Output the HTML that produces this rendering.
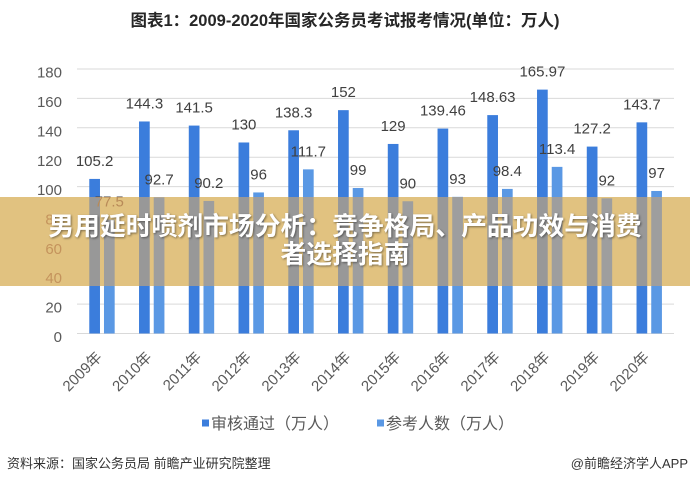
<!DOCTYPE html>
<html><head><meta charset="utf-8">
<style>
html,body{margin:0;padding:0;background:#fff;}
#wrap{position:relative;width:690px;height:485px;overflow:hidden;background:#fff;}
svg{position:absolute;left:0;top:0;}
text{font-family:"Liberation Sans","Noto Sans CJK SC",sans-serif;}
#banner{position:absolute;left:0;top:213px;width:690px;text-align:center;color:#fff;font-family:"Liberation Sans","Noto Sans CJK SC",sans-serif;font-weight:bold;font-size:25.8px;line-height:28px;text-shadow:1px 1px 2px rgba(0,0,0,0.45);white-space:nowrap;}
</style></head><body><div id="wrap">
<svg width="690" height="485" viewBox="0 0 690 485">
<defs><clipPath id="bc"><rect x="0" y="197" width="690" height="89"/></clipPath></defs>
<text x="345" y="26" text-anchor="middle" font-size="16.5" font-weight="bold" fill="#262626">图表1：2009-2020年国家公务员考试报考情况(单位：万人)</text>
<g stroke="#d9d9d9" stroke-width="1">
<line x1="77" x2="674" y1="333.5" y2="333.5"/><line x1="77" x2="674" y1="304.1" y2="304.1"/><line x1="77" x2="674" y1="274.7" y2="274.7"/><line x1="77" x2="674" y1="245.3" y2="245.3"/><line x1="77" x2="674" y1="216" y2="216"/><line x1="77" x2="674" y1="186.6" y2="186.6"/><line x1="77" x2="674" y1="157.3" y2="157.3"/><line x1="77" x2="674" y1="127.8" y2="127.8"/><line x1="77" x2="674" y1="98.4" y2="98.4"/><line x1="77" x2="674" y1="69" y2="69"/>
</g>
<g font-size="15" fill="#595959" text-anchor="end">
<text x="62" y="342">0</text><text x="62" y="312.6">20</text><text x="62" y="283.2">40</text><text x="62" y="253.8">60</text><text x="62" y="224.5">80</text><text x="62" y="195.1">100</text><text x="62" y="165.8">120</text><text x="62" y="136.3">140</text><text x="62" y="106.9">160</text><text x="62" y="77.5">180</text>
</g>
<g id="bars">
<g fill="#3b7ddc">
<rect x="89.28" y="178.92" width="10.7" height="154.58"/><rect x="139.03" y="121.47" width="10.7" height="212.03"/><rect x="188.78" y="125.58" width="10.7" height="207.92"/><rect x="238.53" y="142.48" width="10.7" height="191.02"/><rect x="288.28" y="130.28" width="10.7" height="203.22"/><rect x="338.03" y="110.15" width="10.7" height="223.35"/><rect x="387.78" y="143.95" width="10.7" height="189.55"/><rect x="437.53" y="128.58" width="10.7" height="204.92"/><rect x="487.28" y="115.1" width="10.7" height="218.4"/><rect x="537.03" y="89.62" width="10.7" height="243.88"/><rect x="586.78" y="146.59" width="10.7" height="186.91"/><rect x="636.53" y="122.35" width="10.7" height="211.15"/>
</g>
<g fill="#5a98e4">
<rect x="103.98" y="219.62" width="10.7" height="113.88"/><rect x="153.73" y="197.29" width="10.7" height="136.21"/><rect x="203.48" y="200.96" width="10.7" height="132.54"/><rect x="253.23" y="192.44" width="10.7" height="141.06"/><rect x="302.98" y="169.37" width="10.7" height="164.13"/><rect x="352.73" y="188.03" width="10.7" height="145.47"/><rect x="402.48" y="201.25" width="10.7" height="132.25"/><rect x="452.23" y="196.85" width="10.7" height="136.65"/><rect x="501.98" y="188.91" width="10.7" height="144.59"/><rect x="551.73" y="166.87" width="10.7" height="166.63"/><rect x="601.48" y="198.32" width="10.7" height="135.18"/><rect x="651.23" y="190.97" width="10.7" height="142.53"/>
</g>
</g>
<g font-size="15" fill="#404040" text-anchor="middle">
<text x="94.6" y="165.9">105.2</text><text x="144.4" y="108.5">144.3</text><text x="194.1" y="112.6">141.5</text><text x="243.9" y="129.5">130</text><text x="293.6" y="117.3">138.3</text><text x="343.4" y="97.2">152</text><text x="393.1" y="131">129</text><text x="442.9" y="115.6">139.46</text><text x="492.6" y="102.1">148.63</text><text x="542.4" y="76.6">165.97</text><text x="592.1" y="133.6">127.2</text><text x="641.9" y="109.4">143.7</text>
<text x="109.3" y="206.6">77.5</text><text x="159.1" y="184.3">92.7</text><text x="208.8" y="188">90.2</text><text x="258.6" y="179.4">96</text><text x="308.3" y="156.4">111.7</text><text x="358.1" y="175">99</text><text x="407.8" y="188.3">90</text><text x="457.6" y="183.9">93</text><text x="507.3" y="175.9">98.4</text><text x="557.1" y="153.9">113.4</text><text x="606.8" y="185.3">92</text><text x="656.6" y="178">97</text>
</g>
<rect x="0" y="197" width="690" height="89" fill="#e1c280"/>
<g clip-path="url(#bc)">
<g fill="#989898">
<rect x="89.28" y="178.92" width="10.7" height="154.58"/><rect x="139.03" y="121.47" width="10.7" height="212.03"/><rect x="188.78" y="125.58" width="10.7" height="207.92"/><rect x="238.53" y="142.48" width="10.7" height="191.02"/><rect x="288.28" y="130.28" width="10.7" height="203.22"/><rect x="338.03" y="110.15" width="10.7" height="223.35"/><rect x="387.78" y="143.95" width="10.7" height="189.55"/><rect x="437.53" y="128.58" width="10.7" height="204.92"/><rect x="487.28" y="115.1" width="10.7" height="218.4"/><rect x="537.03" y="89.62" width="10.7" height="243.88"/><rect x="586.78" y="146.59" width="10.7" height="186.91"/><rect x="636.53" y="122.35" width="10.7" height="211.15"/>
</g>
<g fill="#9e9e9e">
<rect x="103.98" y="219.62" width="10.7" height="113.88"/><rect x="153.73" y="197.29" width="10.7" height="136.21"/><rect x="203.48" y="200.96" width="10.7" height="132.54"/><rect x="253.23" y="192.44" width="10.7" height="141.06"/><rect x="302.98" y="169.37" width="10.7" height="164.13"/><rect x="352.73" y="188.03" width="10.7" height="145.47"/><rect x="402.48" y="201.25" width="10.7" height="132.25"/><rect x="452.23" y="196.85" width="10.7" height="136.65"/><rect x="501.98" y="188.91" width="10.7" height="144.59"/><rect x="551.73" y="166.87" width="10.7" height="166.63"/><rect x="601.48" y="198.32" width="10.7" height="135.18"/><rect x="651.23" y="190.97" width="10.7" height="142.53"/>
</g>
<g font-size="15" fill="#c4935c" text-anchor="end">
<text x="62" y="283.2">40</text><text x="62" y="253.8">60</text><text x="62" y="224.5">80</text>
</g>
<text x="109.3" y="206.6" font-size="15" fill="#b88a58" text-anchor="middle">77.5</text>
</g>
<g font-size="15" fill="#595959" text-anchor="end">
<text transform="translate(102.9,358) rotate(-45)">2009年</text>
<text transform="translate(152.6,358) rotate(-45)">2010年</text>
<text transform="translate(202.4,358) rotate(-45)">2011年</text>
<text transform="translate(252.1,358) rotate(-45)">2012年</text>
<text transform="translate(301.9,358) rotate(-45)">2013年</text>
<text transform="translate(351.6,358) rotate(-45)">2014年</text>
<text transform="translate(401.4,358) rotate(-45)">2015年</text>
<text transform="translate(451.1,358) rotate(-45)">2016年</text>
<text transform="translate(500.9,358) rotate(-45)">2017年</text>
<text transform="translate(550.6,358) rotate(-45)">2018年</text>
<text transform="translate(600.4,358) rotate(-45)">2019年</text>
<text transform="translate(650.1,358) rotate(-45)">2020年</text>
</g>
<rect x="202" y="419.5" width="7" height="7" fill="#3b7ddc"/>
<text x="211" y="429" font-size="16" fill="#595959">审核通过（万人）</text>
<rect x="377" y="419.5" width="7" height="7" fill="#5a98e4"/>
<text x="386" y="429" font-size="16" fill="#595959">参考人数（万人）</text>
<text x="7" y="468" font-size="13" fill="#333">资料来源：国家公务员局 前瞻产业研究院整理</text>
<text x="688" y="468" font-size="13" fill="#333" text-anchor="end">@前瞻经济学人APP</text>
</svg>
<div id="banner">男用延时喷剂市场分析：竞争格局、产品功效与消费<br>者选择指南</div>
</div></body></html>
